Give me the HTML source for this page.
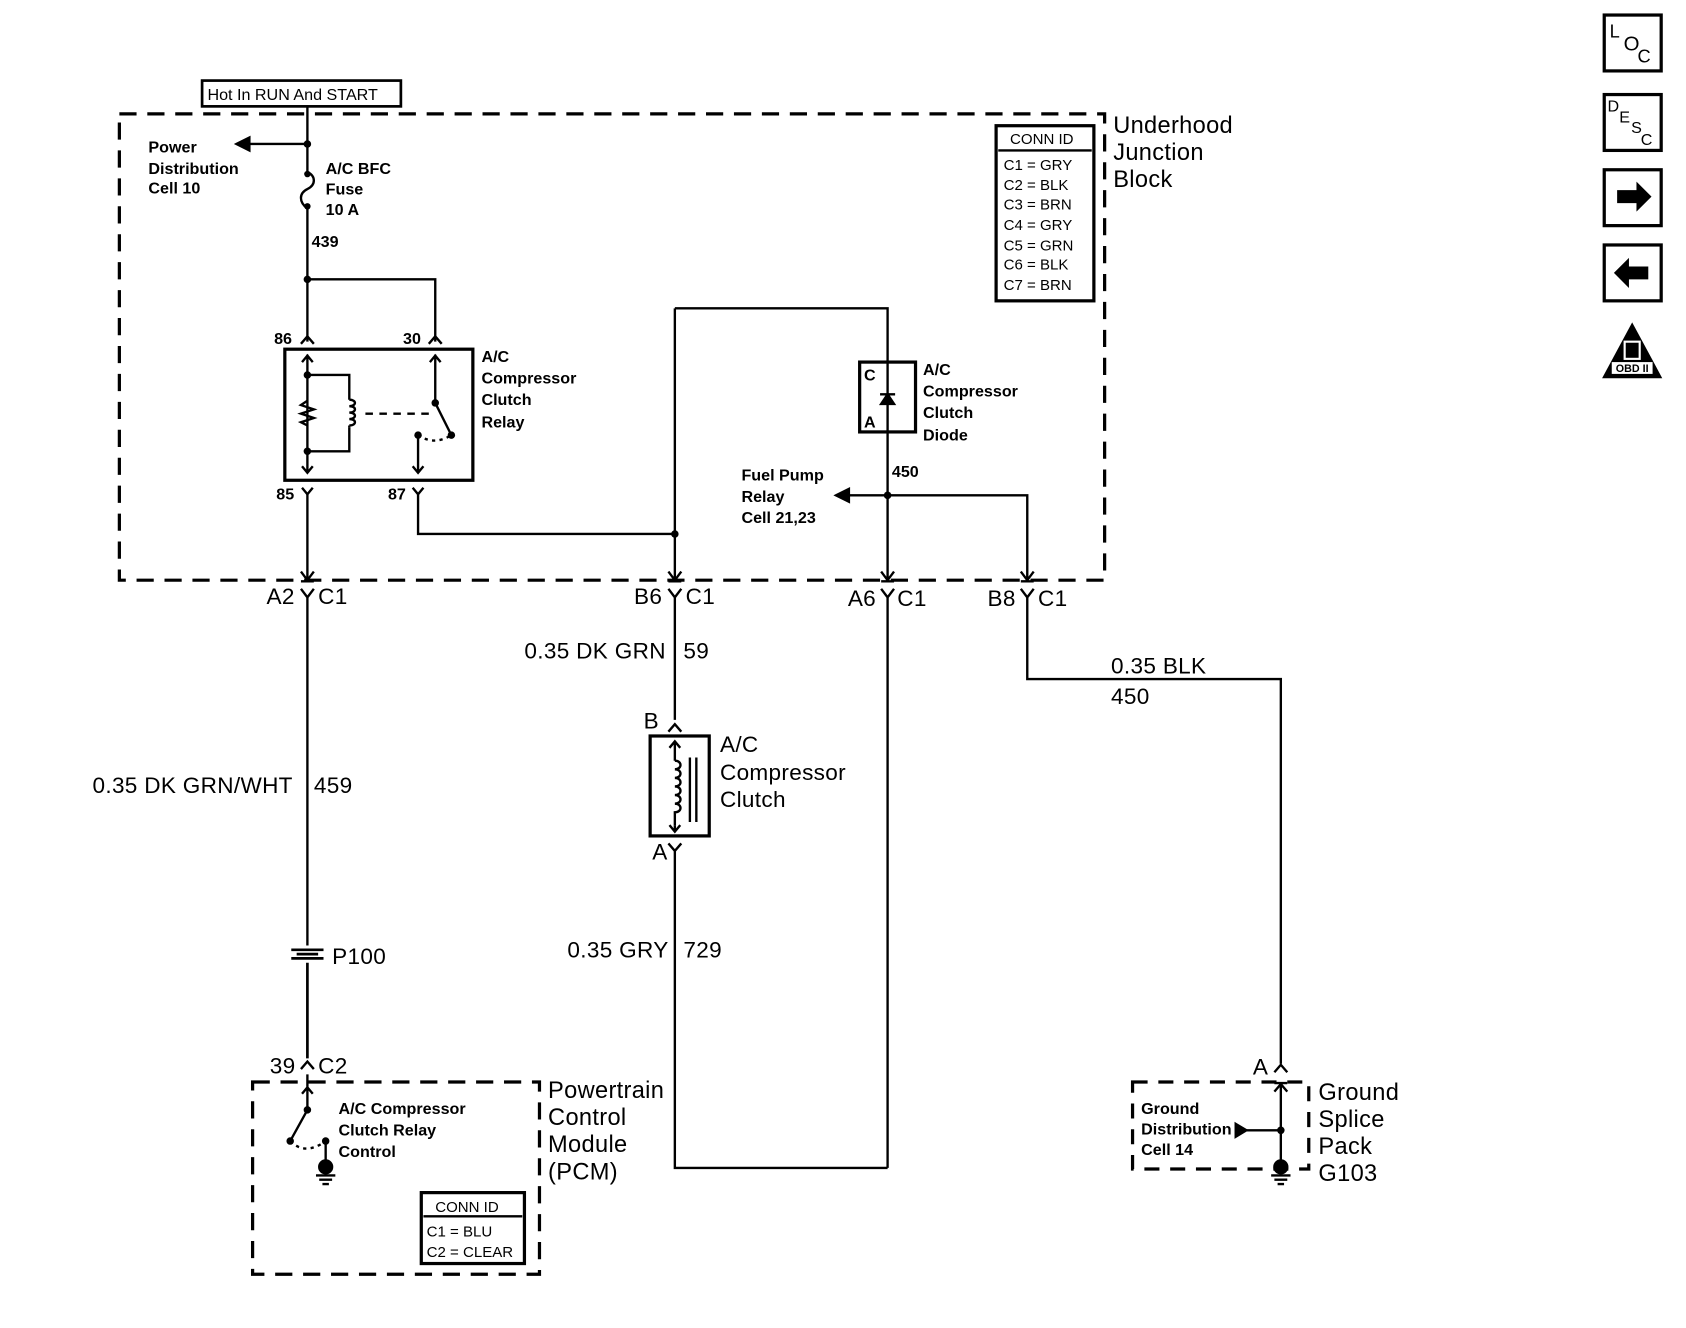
<!DOCTYPE html>
<html><head><meta charset="utf-8"><style>
html,body{margin:0;padding:0;background:#fff;}
svg{display:block;}
text{font-family:"Liberation Sans",Arial,sans-serif;fill:#000;}
.s{font-size:15px;font-weight:bold;}
.m{font-size:21px;letter-spacing:0.3px;}
.l{font-size:22px;letter-spacing:0.3px;}
</style></head><body>
<svg width="1686" height="1328" viewBox="0 0 1569 1236" xmlns="http://www.w3.org/2000/svg">
<g fill="none" stroke="#000" stroke-width="2.2">
<rect x="111" y="106" width="917" height="434" stroke-width="3" stroke-dasharray="16,10"/>
<rect x="188" y="75" width="185" height="24" stroke-width="2.5"/>
<path d="M286 99V160 M286 194V318"/>
<path d="M286 160 c8 4 8 12 0 16 c-8 4 -8 12 0 18"/>
<path d="M286 134H228"/>
<path d="M220 134l12 -6v12z" fill="#000"/>
<path d="M286 260H405V318"/>
<path d="M280 320l6 -7 6 7 M399 320l6 -7 6 7"/>
<rect x="265" y="325" width="175" height="122" stroke-width="3"/>
<path d="M286 330V440 M281 337l5 -6 5 6 M281 434l5 6 5 -6"/>
<path d="M286 349H325V372 M286 420H325V398"/>
<path d="M325 372c7 0 7 6 0 6 c7 0 7 6 0 6 c7 0 7 6 0 6 c7 0 7 6 0 6 M325 396V398"/>
<path d="M286 373l-6 4 12 4 -12 4 12 4 -12 4 6 3"/>
<path d="M340 385H400" stroke-dasharray="7,6"/>
<path d="M405 330V375L420 405 M400 337l5 -6 5 6"/>
<path d="M389 405V440 M384 434l5 6 5 -6"/>
<path d="M389 405q15 10 31 0" stroke-dasharray="3,4"/>
<path d="M281 454l5 6 5 -6 M384 454l5 6 5 -6"/>
<path d="M286 460V540 M280 532l6 8 6 -8 M280 541H292"/>
<path d="M389 460V497H628"/>
<path d="M628 287V540 M622 532l6 8 6 -8 M622 541H634"/>
<path d="M628 287H826V337 M826 402V540 M820 532l6 8 6 -8 M820 541H832"/>
<rect x="800" y="337" width="52" height="65" stroke-width="3"/>
<path d="M826 337V402"/>
<path d="M819 367h14 M826 367l-6 9h12z" fill="#000"/>
<path d="M826 461H786 M826 461H956V540 M950 532l6 8 6 -8 M950 541H962"/>
<path d="M778 461l12 -6v12z" fill="#000"/>
<path d="M280 548l6 8 6 -8 M286 556V880 M622 548l6 8 6 -8 M628 556V670 M820 548l6 8 6 -8 M826 556V1087 M950 548l6 8 6 -8 M956 556V632H1192V990"/>
<path d="M622 681l6 -7 6 7"/>
<rect x="605" y="685" width="55" height="93" stroke-width="3"/>
<path d="M628 690V708 M623 696l5 -6 5 6 M628 768V774 M623 768l5 6 5 -6"/>
<path d="M628 708c7 0 7 8 0 8 c7 0 7 8 0 8 c7 0 7 8 0 8 c7 0 7 8 0 8 c7 0 7 8 0 8 c7 0 7 8 0 8 V768"/>
<path d="M642 705V765 M648 705V765"/>
<path d="M622 785l6 7 6 -7 M628 792V1087H826"/>
<path d="M286 896V985 M271 884h30 M271 892h30 M276 888h20" stroke-width="2.5"/>
<path d="M280 995l6 -7 6 7"/>
<rect x="235" y="1007" width="267" height="179" stroke-width="3" stroke-dasharray="16,10"/>
<path d="M286 1000V1033L270 1062 M281 1018l5 -6 5 6"/>
<path d="M270 1062q14 14 33 0" stroke-dasharray="3,4"/>
<path d="M303 1062V1080"/>
<circle cx="303" cy="1086" r="6" fill="#000"/>
<path d="M294 1094h18 M297 1098h12 M300 1102h6"/>
<rect x="392" y="1110" width="96" height="66" stroke-width="3"/>
<path d="M394 1132H486"/>
<path d="M1186 998l6 -7 6 7"/>
<rect x="1054" y="1007" width="164" height="81" stroke-width="3" stroke-dasharray="14,10"/>
<path d="M1192 1007V1082 M1186 1016l6 -7 6 7 M1186 1008H1198 M1192 1052H1160"/>
<path d="M1150 1046l10 6 -10 6z" fill="#000"/>
<circle cx="1192" cy="1086" r="6" fill="#000"/>
<path d="M1183 1094h18 M1186 1098h12 M1189 1102h6"/>
<rect x="927" y="117" width="91" height="163" stroke-width="3"/>
<path d="M929 140H1016"/>
<rect x="1493" y="14" width="53" height="52" stroke-width="3"/>
<rect x="1493" y="88" width="53" height="52" stroke-width="3"/>
<rect x="1493" y="158" width="53" height="52" stroke-width="3"/>
<rect x="1493" y="228" width="53" height="52" stroke-width="3"/>
</g>
<g fill="#000">
<circle cx="286" cy="134" r="3.5"/><circle cx="286" cy="260" r="3.5"/>
<circle cx="286" cy="349" r="3.5"/><circle cx="286" cy="420" r="3.5"/>
<circle cx="405" cy="375" r="3.5"/><circle cx="420" cy="405" r="3.5"/><circle cx="389" cy="405" r="3.5"/>
<circle cx="628" cy="497" r="3.5"/><circle cx="826" cy="461" r="3.5"/><circle cx="1192" cy="1052" r="3.5"/>
<circle cx="286" cy="1033" r="3.5"/><circle cx="270" cy="1062" r="3.5"/><circle cx="303" cy="1062" r="3.5"/>
<circle cx="286" cy="162" r="3"/><circle cx="286" cy="192" r="3"/>
<path d="M1505 177h18v-8l14 14-14 14v-8h-18z"/>
<path d="M1534 248h-18v-8l-14 14 14 14v-8h18z"/>
<path d="M1519 300l-28 52h56z"/>
</g>
<rect x="1512" y="318" width="14" height="16" fill="none" stroke="#fff" stroke-width="2"/>
<rect x="1500" y="337" width="38" height="11" fill="#fff"/>
<text x="1519" y="346" font-size="10" text-anchor="middle" font-weight="bold">OBD II</text>
<text x="1498" y="35" font-size="17">L</text><text x="1511" y="47" font-size="19">O</text><text x="1524" y="58" font-size="17">C</text>
<text x="1496" y="104" font-size="15">D</text><text x="1507" y="114" font-size="15">E</text><text x="1518" y="124" font-size="15">S</text><text x="1527" y="135" font-size="15">C</text>

<text x="193" y="93" font-size="15">Hot In RUN And START</text>
<text class="s" x="138" y="142">Power</text><text class="s" x="138" y="162">Distribution</text><text class="s" x="138" y="180">Cell 10</text>
<text class="s" x="303" y="162">A/C BFC</text><text class="s" x="303" y="181">Fuse</text><text class="s" x="303" y="200">10 A</text>
<text class="s" x="290" y="230">439</text>
<text class="s" x="255" y="320">86</text><text class="s" x="375" y="320">30</text>
<text class="s" x="257" y="465">85</text><text class="s" x="361" y="465">87</text>
<text class="s" x="448" y="337">A/C</text><text class="s" x="448" y="357">Compressor</text><text class="s" x="448" y="377">Clutch</text><text class="s" x="448" y="398">Relay</text>
<text class="s" x="804" y="354">C</text><text class="s" x="804" y="398">A</text>
<text class="s" x="859" y="349">A/C</text><text class="s" x="859" y="369">Compressor</text><text class="s" x="859" y="389">Clutch</text><text class="s" x="859" y="410">Diode</text>
<text class="s" x="830" y="444">450</text>
<text class="s" x="690" y="447">Fuel Pump</text><text class="s" x="690" y="467">Relay</text><text class="s" x="690" y="487">Cell 21,23</text>
<text x="940" y="134" font-size="14">CONN ID</text>
<text font-size="14" x="934"><tspan x="934" y="158">C1 = GRY</tspan><tspan x="934" y="177">C2 = BLK</tspan><tspan x="934" y="195">C3 = BRN</tspan><tspan x="934" y="214">C4 = GRY</tspan><tspan x="934" y="233">C5 = GRN</tspan><tspan x="934" y="251">C6 = BLK</tspan><tspan x="934" y="270">C7 = BRN</tspan></text>
<text class="l" x="1036" y="124">Underhood</text><text class="l" x="1036" y="149">Junction</text><text class="l" x="1036" y="174">Block</text>
<text class="m" x="248" y="562">A2</text><text class="m" x="296" y="562">C1</text>
<text class="m" x="590" y="562">B6</text><text class="m" x="638" y="562">C1</text>
<text class="m" x="789" y="564">A6</text><text class="m" x="835" y="564">C1</text>
<text class="m" x="919" y="564">B8</text><text class="m" x="966" y="564">C1</text>
<text class="m" x="488" y="613">0.35 DK GRN</text><text class="m" x="636" y="613">59</text>
<text class="m" x="1034" y="627">0.35 BLK</text><text class="m" x="1034" y="655">450</text>
<text class="m" x="599" y="678">B</text>
<text class="m" x="670" y="700">A/C</text><text class="m" x="670" y="726">Compressor</text><text class="m" x="670" y="751">Clutch</text>
<text class="m" x="607" y="800">A</text>
<text class="m" x="86" y="738">0.35 DK GRN/WHT</text><text class="m" x="292" y="738">459</text>
<text class="m" x="528" y="891">0.35 GRY</text><text class="m" x="636" y="891">729</text>
<text class="m" x="309" y="897">P100</text>
<text class="m" x="251" y="999">39</text><text class="m" x="296" y="999">C2</text>
<text class="m" x="1166" y="1000">A</text>
<text class="s" x="315" y="1037">A/C Compressor</text><text class="s" x="315" y="1057">Clutch Relay</text><text class="s" x="315" y="1077">Control</text>
<text class="l" x="510" y="1022">Powertrain</text><text class="l" x="510" y="1047">Control</text><text class="l" x="510" y="1072">Module</text><text class="l" x="510" y="1098">(PCM)</text>
<text x="405" y="1128" font-size="14">CONN ID</text>
<text x="397" y="1151" font-size="14">C1 = BLU</text><text x="397" y="1170" font-size="14">C2 = CLEAR</text>
<text class="s" x="1062" y="1037">Ground</text><text class="s" x="1062" y="1056">Distribution</text><text class="s" x="1062" y="1075">Cell 14</text>
<text class="l" x="1227" y="1024">Ground</text><text class="l" x="1227" y="1049">Splice</text><text class="l" x="1227" y="1074">Pack</text><text class="l" x="1227" y="1099">G103</text>
</svg>
</body></html>
